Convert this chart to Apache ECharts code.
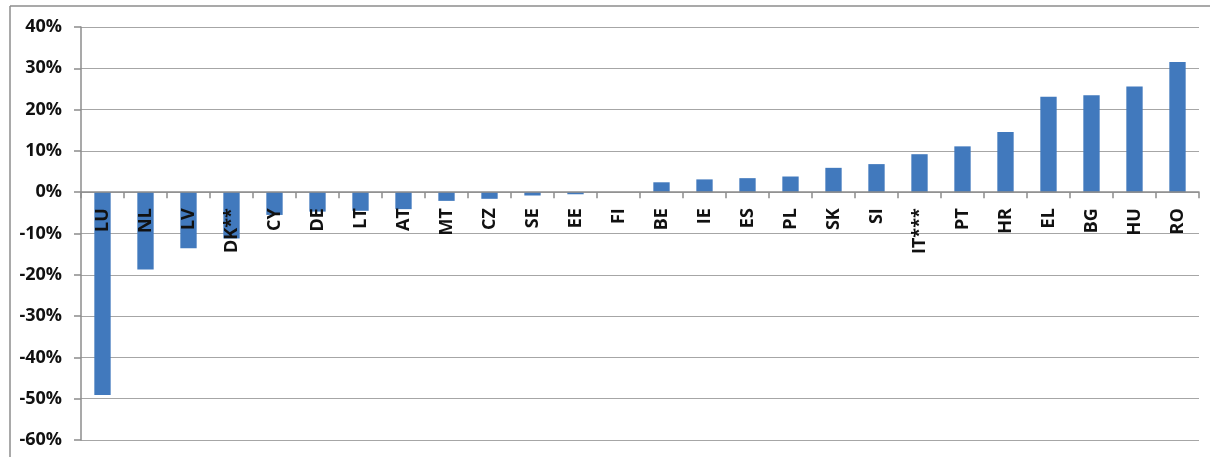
<!DOCTYPE html>
<html>
<head>
<meta charset="utf-8">
<script src="https://cdn.jsdelivr.net/npm/echarts@6/dist/echarts.min.js"></script>
<style>
html,body{margin:0;padding:0;background:#fff;}
#chart{width:1210px;height:457px;}
</style>
</head>
<body>
<div id="chart"></div>
<script>
const categories = ['LU','NL','LV','DK**','CY','DE','LT','AT','MT','CZ','SE','EE','FI','BE','IE','ES','PL','SK','SI','IT***','PT','HR','EL','BG','HU','RO'];
const values = [-49.1,-18.7,-13.6,-11.2,-5.5,-4.7,-4.5,-4.1,-2.1,-1.6,-0.8,-0.5,0,2.4,3.1,3.4,3.8,5.9,6.8,9.2,11.1,14.6,23.1,23.5,25.6,31.5];
const yTicks = {min:-60, max:40, interval:10};

const gridTop = 27, gridBottom = 17, H = 457;
const plotH = H - gridTop - gridBottom;
const zeroOffset = -plotH * (0 - yTicks.min) / (yTicks.max - yTicks.min);

const chart = echarts.init(document.getElementById('chart'));
chart.setOption({
  animation:false,
  grid:{left:81, right:11, top:gridTop, bottom:gridBottom, containLabel:false, outerBoundsMode:'none'},
  graphic:[
    {type:'line', shape:{x1:10,y1:6,x2:1210,y2:6}, style:{stroke:'#8c8c8c', lineWidth:1.5}},
    {type:'line', shape:{x1:10,y1:6,x2:10,y2:457}, style:{stroke:'#8c8c8c', lineWidth:1.5}}
  ],
  xAxis:{
    type:'category',
    data:categories,
    position:'bottom',
    offset:zeroOffset,
    z:10,
    axisLine:{onZero:false, lineStyle:{color:'#8c8c8c', width:1.5}},
    axisTick:{show:true, length:6, lineStyle:{color:'#8c8c8c', width:1.5}},
    axisLabel:{rotate:90, margin:16, interval:0, color:'#111', fontWeight:'bold', fontSize:18, fontFamily:'Open Sans'},
    splitLine:{show:false}
  },
  yAxis:{
    type:'value',
    min:yTicks.min, max:yTicks.max, interval:yTicks.interval,
    axisLine:{show:true, lineStyle:{color:'#8c8c8c', width:1.5}},
    axisTick:{show:true, length:7, lineStyle:{color:'#8c8c8c', width:1.5}},
    axisLabel:{formatter:'{value}%', color:'#111', fontWeight:'bold', fontSize:18, fontFamily:'Open Sans', margin:19},
    splitLine:{show:true, lineStyle:{color:'#a6a6a6', width:1.2}}
  },
  series:[{
    type:'bar',
    data:values,
    barWidth:'38%',
    itemStyle:{color:'#4179BD'}
  }]
});
</script>
</body>
</html>
